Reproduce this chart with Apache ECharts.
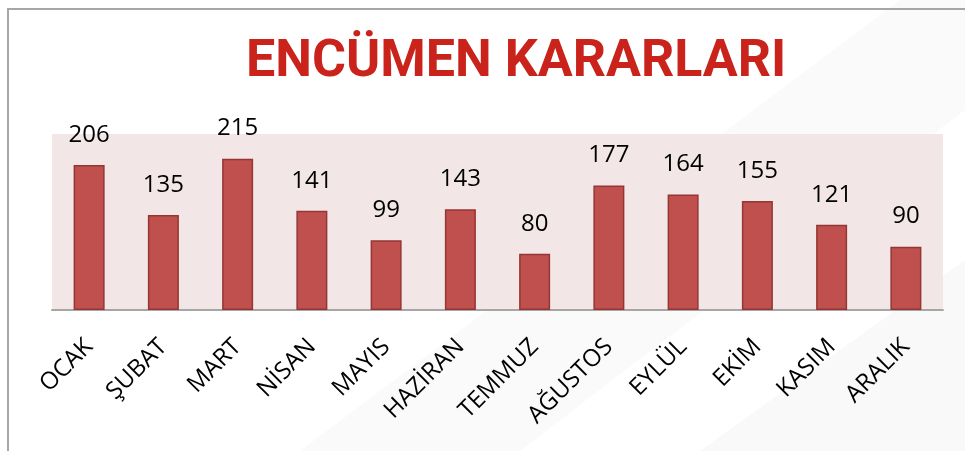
<!DOCTYPE html>
<html>
<head>
<meta charset="utf-8">
<script src="https://cdn.jsdelivr.net/npm/echarts@6/dist/echarts.min.js"></script>
<style>
html,body{margin:0;padding:0;background:#ffffff;}
#chart{width:965px;height:451px;}
</style>
</head>
<body>
<div id="chart"></div>
<script>
const titleText = 'ENCÜMEN KARARLARI';
const months = ['OCAK','ŞUBAT','MART','NİSAN','MAYIS','HAZİRAN','TEMMUZ','AĞUSTOS','EYLÜL','EKİM','KASIM','ARALIK'];
const decisions = [206,135,215,141,99,143,80,177,164,155,121,90];

const chart = echarts.init(document.getElementById('chart'), null, {renderer:'canvas'});
chart.setOption({
  backgroundColor: '#ffffff',
  animation: false,
  graphic: [
    {type:'polygon', silent:true, z:-10, shape:{points:[[300,451],[520,451],[965,110],[965,0],[900,0]]}, style:{fill:'rgba(240,240,240,0.3)'}},
    {type:'polygon', silent:true, z:-10, shape:{points:[[700,451],[965,451],[965,260]]}, style:{fill:'rgba(236,236,236,0.3)'}},
    {type:'polyline', silent:true, z:-5, shape:{points:[[8,451],[8,9],[965,9]]}, style:{stroke:'#a6a6a6', lineWidth:2, fill:null}}
  ],
  title: {
    text: titleText,
    left: 246,
    top: 37,
    padding: 0,
    textStyle: {
      fontFamily: 'Roboto',
      fontWeight: 'bold',
      fontSize: 52,
      color: '#C9231B'
    }
  },
  grid: { left: 52, right: 22, top: 134, bottom: 141, show: true, backgroundColor: '#F2E6E6', borderWidth: 0 },
  xAxis: {
    type: 'category',
    data: months,
    axisLine: { show: true, lineStyle: { color: '#A6A6A6', width: 2 } },
    axisTick: { show: false },
    axisLabel: {
      rotate: 45,
      margin: 33,
      fontFamily: 'Open Sans',
      fontSize: 24,
      color: '#000000',
      interval: 0
    }
  },
  yAxis: {
    type: 'value',
    min: 0,
    max: 250,
    show: false,
    splitLine: { show: false }
  },
  series: [{
    type: 'bar',
    data: decisions,
    barWidth: 31,
    itemStyle: { color: '#C0504D', borderColor: '#943634', borderWidth: 1.5 },
    label: {
      show: true,
      position: 'top',
      distance: 18,
      fontFamily: 'Open Sans',
      fontSize: 24,
      color: '#000000'
    }
  }]
});
</script>
</body>
</html>
